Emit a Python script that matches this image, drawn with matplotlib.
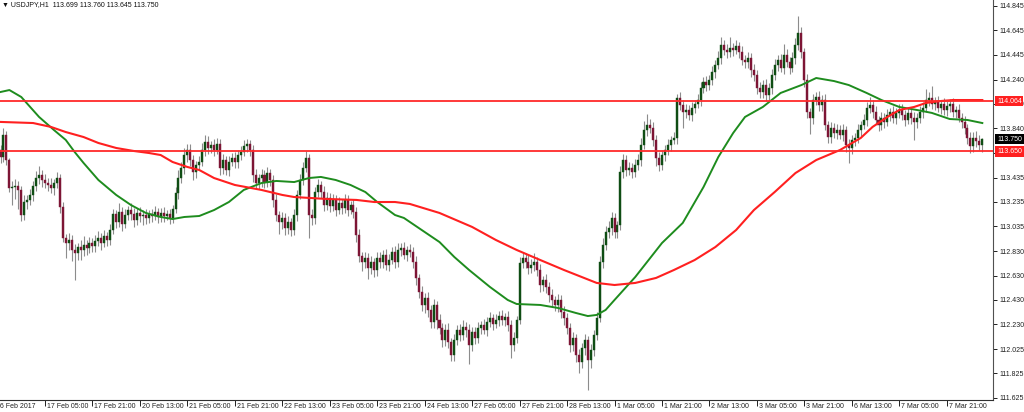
import numpy as np
import matplotlib
matplotlib.use("Agg")
import matplotlib.pyplot as plt
from matplotlib.transforms import blended_transform_factory

plt.rcParams['font.family'] = ['Liberation Sans', 'DejaVu Sans']

# hourly closes, one row per 16 bars
first_open = 113.660
closes = [
    113.604, 113.785, 113.579, 113.349, 113.357, 113.366, 113.333, 113.127, 113.234, 113.251, 113.292, 113.366, 113.431, 113.456, 113.415, 113.390,
    113.374, 113.349, 113.390, 113.431, 113.193, 112.938, 112.897, 112.922, 112.840, 112.815, 112.864, 112.840, 112.881, 112.856, 112.897, 112.873,
    112.914, 112.938, 112.897, 112.955, 112.922, 113.004, 113.136, 113.070, 113.152, 113.053, 113.127, 113.168, 113.136, 113.086, 113.144, 113.119,
    113.127, 113.103, 113.136, 113.119, 113.152, 113.111, 113.144, 113.119, 113.136, 113.103, 113.177, 113.308, 113.431, 113.514, 113.620, 113.661,
    113.579, 113.481, 113.538, 113.563, 113.661, 113.727, 113.678, 113.703, 113.661, 113.711, 113.514, 113.579, 113.497, 113.563, 113.596, 113.563,
    113.620, 113.645, 113.694, 113.711, 113.661, 113.456, 113.390, 113.431, 113.456, 113.398, 113.472, 113.415, 113.251, 113.127, 113.070, 113.103,
    113.021, 113.070, 113.004, 113.127, 113.292, 113.415, 113.514, 113.596, 113.127, 113.103, 113.316, 113.374, 113.316, 113.209, 113.267, 113.201,
    113.251, 113.168, 113.226, 113.185, 113.251, 113.168, 113.209, 113.152, 112.963, 112.790, 112.741, 112.774, 112.692, 112.741, 112.675, 112.774,
    112.741, 112.799, 112.717, 112.757, 112.823, 112.741, 112.840, 112.856, 112.799, 112.840, 112.823, 112.741, 112.610, 112.495, 112.388, 112.445,
    112.347, 112.248, 112.388, 112.264, 112.199, 112.100, 112.182, 112.084, 111.977, 112.100, 112.182, 112.141, 112.207, 112.182, 112.059, 112.166,
    112.117, 112.199, 112.224, 112.182, 112.248, 112.281, 112.232, 112.264, 112.297, 112.264, 112.289, 112.224, 112.059, 112.117, 112.264, 112.733,
    112.774, 112.741, 112.692, 112.717, 112.741, 112.675, 112.552, 112.593, 112.536, 112.470, 112.429, 112.388, 112.429, 112.330, 112.281, 112.199,
    112.059, 112.117, 111.977, 111.919, 112.035, 112.100, 111.936, 112.018, 112.141, 112.281, 112.741, 112.881, 112.988, 113.021, 113.103, 112.988,
    113.045, 113.481, 113.579, 113.497, 113.514, 113.481, 113.538, 113.579, 113.703, 113.826, 113.867, 113.842, 113.744, 113.596, 113.538, 113.620,
    113.661, 113.703, 113.744, 113.760, 114.089, 114.031, 113.974, 113.990, 113.949, 114.007, 114.039, 114.072, 114.171, 114.220, 114.196, 114.237,
    114.302, 114.360, 114.417, 114.524, 114.483, 114.467, 114.500, 114.483, 114.516, 114.467, 114.401, 114.385, 114.417, 114.319, 114.278, 114.171,
    114.138, 114.196, 114.113, 114.171, 114.278, 114.360, 114.401, 114.335, 114.442, 114.385, 114.335, 114.417, 114.524, 114.623, 114.467, 114.237,
    113.974, 113.924, 114.072, 114.097, 114.031, 114.072, 113.867, 113.768, 113.842, 113.801, 113.826, 113.785, 113.826, 113.703, 113.678, 113.744,
    113.760, 113.826, 113.867, 113.908, 114.007, 114.031, 113.974, 113.908, 113.867, 113.924, 113.891, 113.949, 113.974, 113.924, 113.965, 113.990,
    113.949, 113.908, 113.965, 113.924, 113.891, 113.924, 113.974, 114.007, 114.072, 114.089, 114.039, 114.056, 114.007, 114.039, 113.990, 114.023,
    114.039, 113.974, 113.990, 113.924, 113.891, 113.842, 113.760, 113.694, 113.760, 113.735, 113.699, 113.750,
]

# wick lengths in pips (0.01)
up_wick = [
    4, 6, 3, 2, 5, 6, 4, 3, 6, 4, 5, 4, 6, 7, 4, 5,
    4, 6, 3, 5, 3, 4, 3, 6, 4, 5, 3, 6, 7, 4, 5, 4,
    5, 6, 4, 5, 3, 5, 4, 3, 7, 4, 5, 3, 6, 5, 4, 5,
    4, 5, 3, 4, 5, 3, 4, 5, 3, 4, 3, 5, 7, 5, 6, 5,
    5, 4, 3, 5, 6, 6, 5, 3, 5, 5, 4, 5, 3, 5, 4, 5,
    4, 5, 5, 4, 3, 4, 5, 3, 5, 4, 5, 3, 4, 5, 3, 5,
    4, 5, 3, 5, 4, 5, 5, 6, 3, 5, 4, 5, 3, 5, 5, 4,
    5, 4, 5, 3, 5, 4, 3, 5, 4, 5, 3, 5, 4, 5, 3, 5,
    5, 4, 5, 5, 4, 5, 6, 4, 5, 3, 5, 4, 5, 3, 5, 4,
    5, 4, 5, 3, 5, 4, 5, 6, 3, 5, 4, 5, 6, 4, 5, 4,
    4, 5, 3, 5, 4, 5, 3, 5, 4, 5, 3, 5, 4, 5, 3, 5,
    5, 4, 6, 5, 7, 4, 5, 3, 5, 4, 5, 3, 5, 4, 5, 4,
    4, 5, 3, 5, 4, 5, 3, 5, 4, 5, 5, 6, 5, 6, 5, 4,
    3, 5, 5, 4, 5, 4, 5, 5, 6, 7, 9, 5, 5, 4, 5, 4,
    4, 5, 3, 5, 3, 5, 4, 5, 4, 5, 3, 5, 5, 4, 5, 4,
    5, 4, 6, 7, 4, 5, 9, 4, 5, 3, 5, 4, 5, 4, 5, 4,
    5, 4, 5, 4, 5, 5, 4, 5, 9, 5, 4, 5, 6, 14, 5, 3,
    5, 3, 5, 4, 5, 4, 5, 3, 5, 4, 5, 4, 5, 3, 5, 4,
    4, 5, 3, 5, 5, 7, 4, 5, 3, 5, 4, 5, 3, 5, 4, 5,
    5, 4, 5, 3, 5, 4, 5, 5, 9, 5, 10, 4, 5, 3, 5, 4,
    4, 5, 3, 5, 4, 5, 3, 5, 5, 6, 5, 1,
]
dn_wick = [
    5, 4, 4, 3, 14, 10, 16, 5, 4, 6, 4, 5, 4, 5, 6, 4,
    5, 4, 6, 4, 5, 3, 12, 6, 9, 22, 6, 8, 5, 6, 4, 5,
    5, 4, 6, 3, 5, 4, 3, 5, 4, 6, 3, 4, 5, 6, 4, 5,
    7, 5, 4, 5, 3, 5, 4, 5, 3, 5, 4, 3, 5, 4, 5, 6,
    5, 7, 5, 4, 3, 5, 5, 4, 5, 3, 6, 5, 4, 5, 3, 5,
    5, 4, 3, 5, 5, 6, 5, 5, 7, 5, 4, 5, 6, 5, 10, 6,
    6, 5, 5, 4, 5, 3, 4, 3, 19, 6, 5, 4, 5, 5, 4, 5,
    4, 5, 3, 5, 4, 5, 3, 5, 6, 5, 7, 5, 9, 5, 6, 5,
    5, 5, 4, 5, 3, 5, 4, 5, 3, 5, 4, 5, 6, 5, 5, 7,
    6, 5, 5, 7, 5, 6, 5, 5, 5, 5, 4, 5, 4, 6, 16, 5,
    5, 4, 5, 3, 5, 4, 5, 3, 5, 4, 5, 5, 11, 5, 4, 3,
    4, 5, 5, 4, 5, 5, 6, 5, 5, 6, 5, 5, 6, 5, 6, 5,
    6, 5, 6, 9, 5, 6, 25, 7, 5, 4, 3, 5, 4, 5, 6, 5,
    5, 4, 5, 5, 4, 5, 4, 4, 5, 3, 5, 4, 5, 7, 5, 4,
    5, 4, 5, 3, 5, 4, 13, 5, 4, 5, 4, 3, 5, 4, 5, 4,
    4, 5, 3, 5, 4, 5, 4, 5, 3, 5, 4, 5, 5, 6, 5, 5,
    5, 5, 5, 4, 5, 4, 5, 3, 5, 4, 5, 3, 5, 4, 5, 6,
    5, 13, 5, 4, 5, 5, 4, 5, 5, 4, 5, 3, 5, 6, 12, 5,
    5, 4, 5, 3, 5, 4, 5, 3, 5, 4, 5, 3, 5, 4, 5, 4,
    4, 5, 3, 5, 15, 5, 4, 5, 3, 5, 4, 5, 3, 5, 4, 5,
    5, 4, 5, 3, 5, 5, 5, 6, 5, 5, 4, 5,
]

# moving averages, read at some bars
green_bars = [0, 3, 7, 13, 18, 22, 25, 28, 33, 39, 44, 49, 54, 58, 62, 67, 72, 77, 82, 88,
              93, 99, 104, 108, 113, 118, 123, 127, 133, 136, 142, 148, 153, 158, 165, 171, 174, 182, 188, 194,
              198, 201, 204, 207, 214, 223, 230, 237, 242, 247, 251, 257, 263, 270, 275, 281, 286, 292, 297, 303,
              309, 314, 320, 326, 331]
green_ma = [114.138, 114.154, 114.097, 113.933, 113.826, 113.744, 113.645, 113.555, 113.415, 113.292,
            113.209, 113.144, 113.111, 113.094, 113.111, 113.119, 113.168, 113.234, 113.333, 113.390,
            113.407, 113.398, 113.431, 113.440, 113.415, 113.374, 113.316, 113.234, 113.127, 113.103,
            113.004, 112.905, 112.782, 112.675, 112.536, 112.429, 112.396, 112.388, 112.363, 112.322,
            112.297, 112.306, 112.347, 112.429, 112.618, 112.897, 113.062, 113.357, 113.604, 113.801,
            113.933, 114.015, 114.130, 114.195, 114.253, 114.228, 114.195, 114.130, 114.072, 114.015,
            113.990, 113.966, 113.916, 113.908, 113.883]
red_bars = [0, 11, 17, 22, 28, 33, 39, 45, 50, 54, 58, 63, 67, 72, 79, 88, 95, 99, 110, 120,
            126, 133, 138, 148, 159, 167, 174, 182, 190, 201, 207, 214, 221, 227, 234, 241, 248, 254, 261, 268,
            275, 283, 290, 294, 299, 303, 308, 312, 317, 321, 326, 331]
red_ma = [113.892, 113.883, 113.851, 113.809, 113.768, 113.719, 113.678, 113.653, 113.637, 113.620,
          113.563, 113.522, 113.497, 113.431, 113.374, 113.333, 113.292, 113.275, 113.259, 113.251,
          113.234, 113.234, 113.218, 113.144, 113.029, 112.922, 112.840, 112.757, 112.675, 112.569,
          112.552, 112.569, 112.610, 112.675, 112.757, 112.864, 113.004, 113.168, 113.316, 113.472,
          113.579, 113.661, 113.760, 113.851, 113.933, 113.990, 114.015, 114.048, 114.064, 114.072,
          114.072, 114.072]

price_ticks = [114.845, 114.645, 114.445, 114.240, 114.040, 113.840, 113.640, 113.435, 113.235,
               113.035, 112.830, 112.630, 112.430, 112.230, 112.025, 111.825, 111.625]
time_labels = ["17 Feb 05:00", "17 Feb 21:00", "20 Feb 13:00", "21 Feb 05:00", "21 Feb 21:00",
               "22 Feb 13:00", "23 Feb 05:00", "23 Feb 21:00", "24 Feb 13:00", "27 Feb 05:00",
               "27 Feb 21:00", "28 Feb 13:00", "1 Mar 05:00", "1 Mar 21:00", "2 Mar 13:00",
               "3 Mar 05:00", "3 Mar 21:00", "6 Mar 13:00", "7 Mar 05:00", "7 Mar 21:00"]
levels = [114.064, 113.650]
last_price = 113.750

c = np.array(closes)
o = np.r_[first_open, c[:-1]]
hi = np.maximum(o, c) + np.array(up_wick) * 0.01
lo = np.minimum(o, c) - np.array(dn_wick) * 0.01
x = np.arange(len(c))

fig = plt.figure(figsize=(10.24, 4.12), dpi=100)
ax = fig.add_axes([0, 12 / 412, 993 / 1024, 400 / 412])
ax.set_xlim(-0.17, 334.6)
ax.set_ylim(111.607, 114.894)

up = c >= o
ax.vlines(x, lo, hi, color='#8c8c8c', lw=0.8, zorder=2)
body = np.maximum(np.abs(c - o), 0.006)
ax.bar(x[up], body[up], bottom=np.minimum(o, c)[up], width=0.68,
       color='#0f4d14', edgecolor='#0f4d14', lw=0.3, zorder=3)
ax.bar(x[~up], body[~up], bottom=np.minimum(o, c)[~up], width=0.68,
       color='#7d1535', edgecolor='#7d1535', lw=0.3, zorder=3)

ax.plot(green_bars, green_ma, color='#1e8c1e', lw=1.4, zorder=4)
ax.plot(red_bars, red_ma, color='#ff2020', lw=1.5, zorder=4)
for lv in levels:
    ax.axhline(lv, color='#ff2a2a', lw=1.3, zorder=5)

# axes look
for s in ['left', 'top']:
    ax.spines[s].set_visible(False)
ax.spines['right'].set_color('#505050')
ax.spines['bottom'].set_color('#303030')
ax.yaxis.tick_right()
ax.set_yticks(price_ticks)
ax.set_yticklabels(['%.3f' % p for p in price_ticks])
ax.tick_params(axis='y', direction='out', length=3, width=0.7, pad=1.5, labelsize=5.0, colors='#202020')
tick_bars = [15 + 16 * k for k in range(len(time_labels))]
ax.set_xticks(tick_bars)
ax.tick_params(axis='x', direction='out', length=4, width=0.7, labelbottom=False, colors='#202020')

for b, lab in zip(tick_bars, time_labels):
    ax.annotate(lab, xy=(b, 0), xycoords=('data', 'axes fraction'), xytext=(2, -3),
                textcoords='offset pixels', ha='left', va='top', fontsize=5.0,
                color='#202020', annotation_clip=False)
ax.annotate("16 Feb 2017", xy=(0, 0), xycoords='axes fraction', xytext=(-4, -3),
            textcoords='offset pixels', ha='left', va='top', fontsize=5.0,
            color='#202020', annotation_clip=False)

# price boxes on the scale
tr = blended_transform_factory(ax.transAxes, ax.transData)
for val, col in [(last_price, '#000000'), (levels[1], '#ff2020'), (levels[0], '#ff2020')]:
    ax.annotate('%.3f' % val, xy=(1, val), xycoords=tr, xytext=(4, 0),
                textcoords='offset pixels', ha='left', va='center', fontsize=5.0,
                color='white', annotation_clip=False, zorder=10,
                bbox=dict(boxstyle='square,pad=0.25', fc=col, ec='none'))

fig.text(2 / 1024, 1 - 5 / 412, u"\u25bc USDJPY,H1  113.699 113.760 113.645 113.750",
         ha='left', va='center', fontsize=5.0, color='#101010')

fig.savefig('out.png', dpi=100)
